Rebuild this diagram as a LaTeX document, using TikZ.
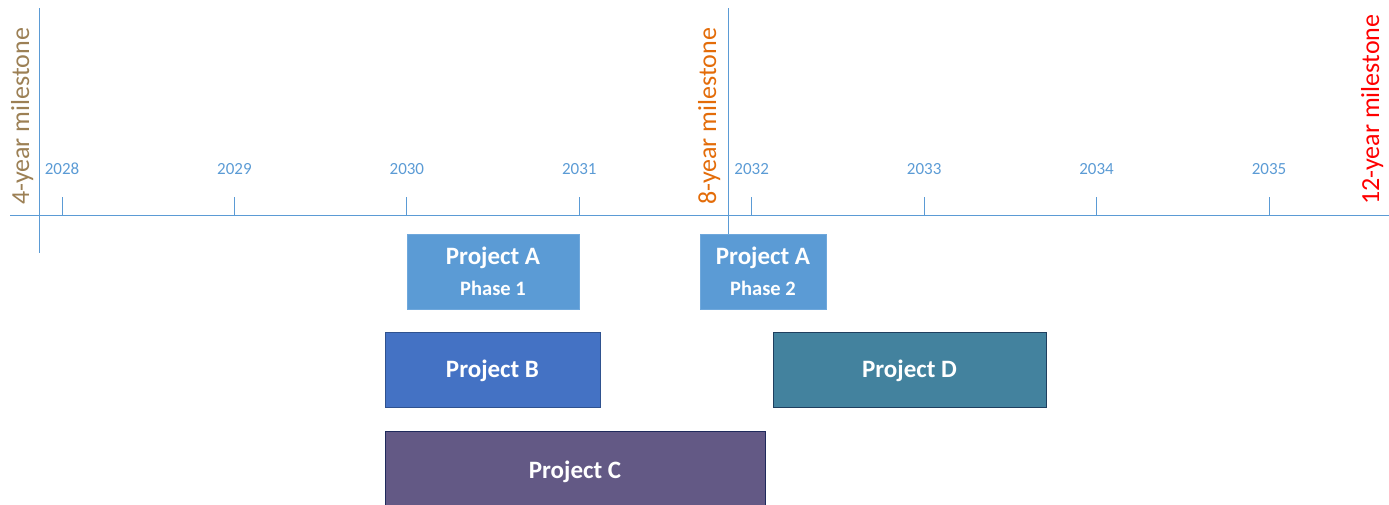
\documentclass[tikz,border=0pt]{standalone}
\usepackage{fontspec}
\setmainfont{Carlito}
\usetikzlibrary{calc}
\definecolor{axisblue}{HTML}{5B9BD5}
\definecolor{mbrown}{HTML}{9C8055}
\definecolor{morange}{HTML}{E36C09}
\definecolor{mred}{HTML}{FF0000}
\definecolor{pA}{HTML}{5B9BD5}
\definecolor{pAb}{HTML}{6FA8DC}
\definecolor{pB}{HTML}{4472C4}
\definecolor{pBb}{HTML}{2F528F}
\definecolor{pD}{HTML}{43829E}
\definecolor{pDb}{HTML}{1F3F5F}
\definecolor{pC}{HTML}{635985}
\definecolor{pCb}{HTML}{1F2A5C}
\tikzset{
  axisline/.style={draw=axisblue, line width=1pt},
  yearlbl/.style={text=axisblue, font=\fontsize{17}{20}\selectfont, inner sep=0pt, anchor=base},
  mile/.style={font=\fontsize{26}{31}\selectfont, inner sep=0pt, rotate=90, anchor=base west},
  pbox/.style={line width=1pt, inner sep=0pt, minimum height=75pt},
  ptext/.style={text=white, font=\fontsize{25}{30}\selectfont\bfseries, inner sep=0pt, anchor=base},
  phtext/.style={text=white, font=\fontsize{20.5}{24}\selectfont\bfseries, inner sep=0pt, anchor=base}
}
\begin{document}
\begin{tikzpicture}[x=1pt,y=-1pt]
\useasboundingbox (0,0) rectangle (1389,504);
% axis
\coordinate (axL) at (10,215);
\coordinate (axR) at (1389,215);
\draw[axisline] (axL) -- (axR);
% milestone lines
\coordinate (m4t) at (39,8);
\coordinate (m4b) at (39,253);
\draw[axisline] (m4t) -- (m4b);
\coordinate (m8t) at (728,8);
\coordinate (m8b) at (728,234);
\draw[axisline] (m8t) -- (m8b);
% ticks and years
\foreach \i/\yr in {0/2028,1/2029,2/2030,3/2031,4/2032,5/2033,6/2034,7/2035}{
  \pgfmathsetmacro\xx{62+172.43*\i}
  \coordinate (t\yr a) at (\xx,197);
  \coordinate (t\yr b) at (\xx,215);
  \draw[axisline] (t\yr a) -- (t\yr b);
  \node[yearlbl] (y\yr) at (\xx,174) {\yr};
}
% milestone labels
\node[mile, text=mbrown] (ml4) at (29,205) {4-year milestone};
\node[mile, text=morange] (ml8) at (716,205) {8-year milestone};
\node[mile, text=mred] (ml12) at (1379,205) {12-year milestone};
% project boxes
\node[pbox, fill=pA, draw=pAb, minimum width=172pt] (A1) at (493,271.5) {};
\node[ptext] (A1t) at ($(A1.center)+(0,-7)$) {Project A};
\node[phtext] (A1p) at ($(A1.center)+(0,23.5)$) {Phase 1};
\node[pbox, fill=pA, draw=pAb, minimum width=126pt] (A2) at (763,271.5) {};
\node[ptext] (A2t) at ($(A2.center)+(0,-7)$) {Project A};
\node[phtext] (A2p) at ($(A2.center)+(0,23.5)$) {Phase 2};
\node[pbox, fill=pB, draw=pBb, minimum width=215pt] (B) at (492.5,369.5) {};
\node[ptext] (Bt) at ($(B.center)+(0,7.5)$) {Project B};
\node[pbox, fill=pD, draw=pDb, minimum width=273pt] (D) at (909.5,369.5) {};
\node[ptext] (Dt) at ($(D.center)+(0,7.5)$) {Project D};
\node[pbox, fill=pC, draw=pCb, minimum width=380pt, minimum height=80pt] (C) at (575,471) {};
\node[ptext] (Ct) at (575,478) {Project C};
\end{tikzpicture}
\end{document}
